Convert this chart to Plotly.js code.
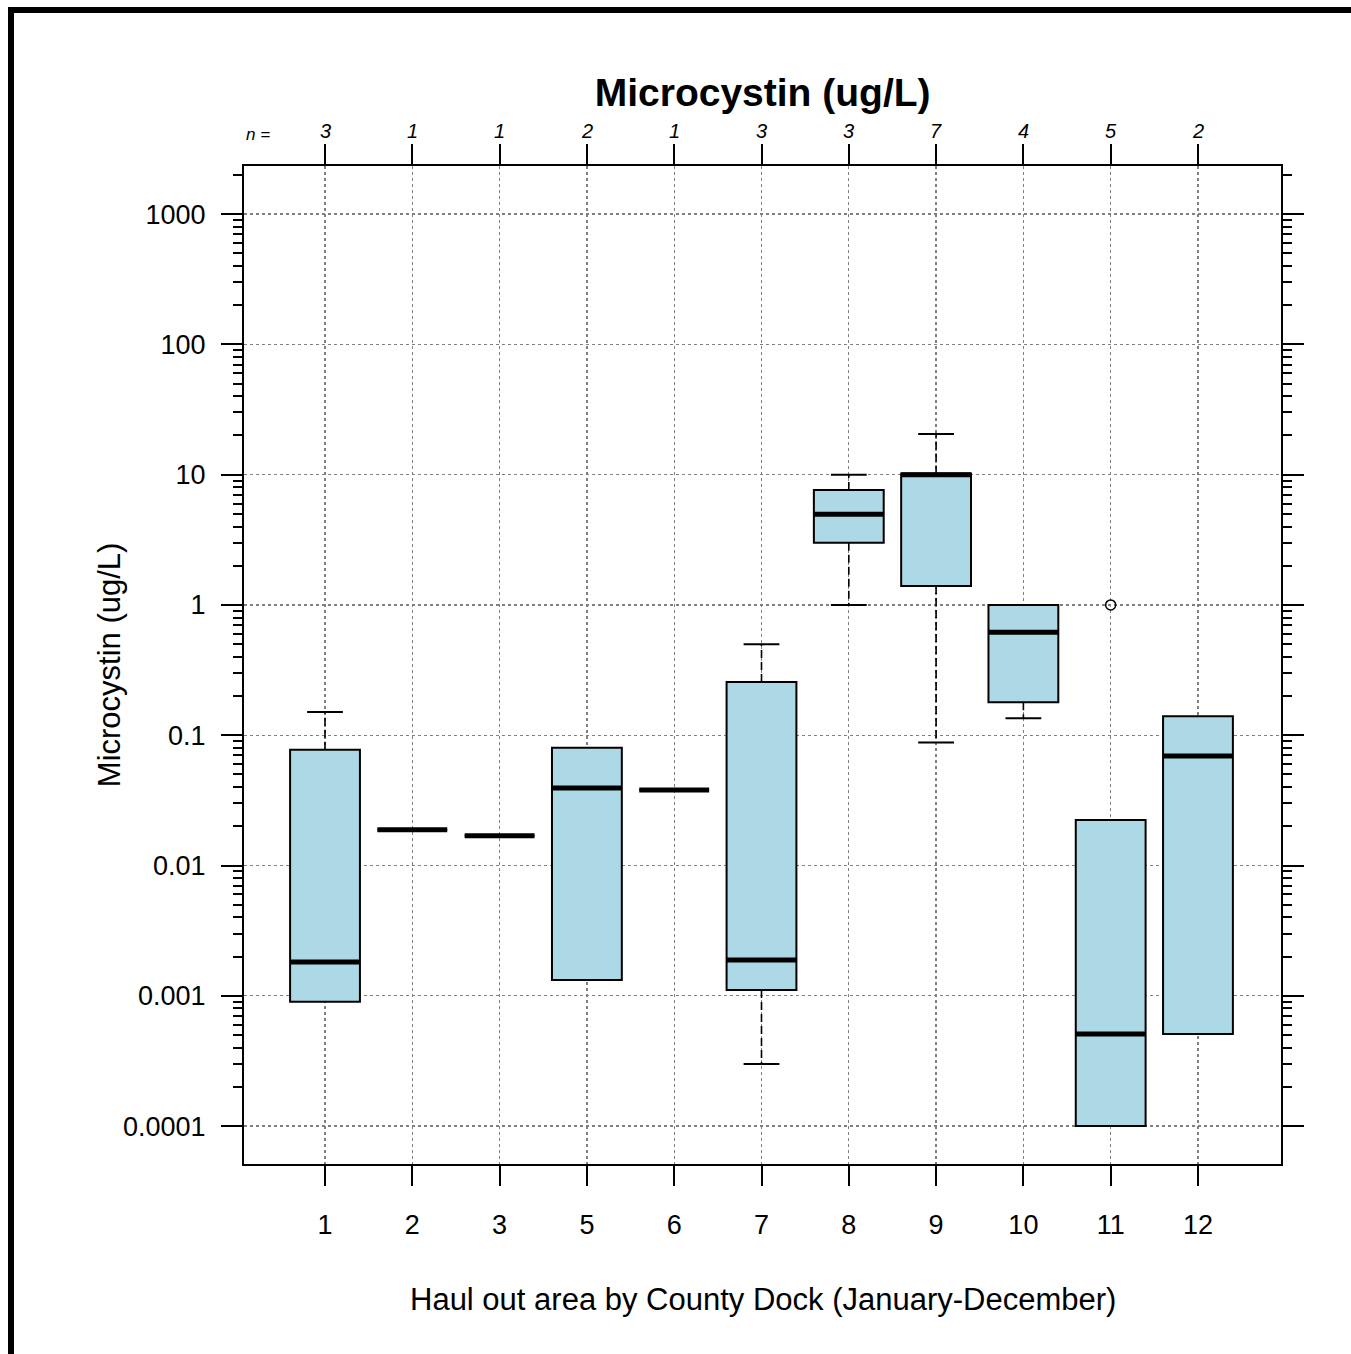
<!DOCTYPE html>
<html>
<head>
<meta charset="utf-8">
<script src="https://cdn.plot.ly/plotly-3.0.1.min.js"></script>
<style>
  html, body { margin: 0; padding: 0; background: #fff; }
  #chart { width: 1351px; height: 1354px; }
  #frame { position: absolute; left: 8px; top: 7px; width: 1400px; height: 1400px;
           border-top: 6px solid #000; border-left: 6px solid #000; pointer-events: none; }
</style>
</head>
<body>
<div id="chart"></div>
<div id="frame"></div>
<script>
// ---- data ----
const months      = ['1', '2', '3', '5', '6', '7', '8', '9', '10', '11', '12'];
const nCounts     = ['3', '1', '1', '2', '1', '3', '3', '7', '4', '5', '2'];
const q1Vals      = [0.00090, 0.0188, 0.0169, 0.00132, 0.038, 0.00111, 3.0, 1.40, 0.179, 0.0001, 0.00051];
const medianVals  = [0.00182, 0.0188, 0.0169, 0.0394, 0.038, 0.00188, 4.96, 10.0, 0.616, 0.00051, 0.0692];
const q3Vals      = [0.0772, 0.0188, 0.0169, 0.080, 0.038, 0.256, 7.62, 10.2, 1.0, 0.0224, 0.140];
const upperWhisk  = [0.151, null, null, null, null, 0.50, 10.0, 20.5, null, null, null];
const lowerWhisk  = [null, null, null, null, null, 0.0003, 1.0, 0.088, 0.135, null, null];
const outlierMonth = ['11'];
const outlierVals  = [1.0];
const yTickVals   = [0.0001, 0.001, 0.01, 0.1, 1, 10, 100, 1000];
const yTickText   = ['0.0001', '0.001', '0.01', '0.1', '1', '10', '100', '1000'];

// ---- derived ----
const idx = months.map((m, i) => i);
const minorVals = [];
for (let e = -4; e <= 3; e++) for (let d = 2; d <= 9; d++) minorVals.push(d * Math.pow(10, e));

const halfBox = 0.4, halfCap = 0.205;
const FONT = 'Liberation Sans, Arial, sans-serif';

// whiskers (dashed)
const wx = [], wy = [];
idx.forEach(i => {
  if (upperWhisk[i] !== null) { wx.push(i, i, null); wy.push(q3Vals[i], upperWhisk[i], null); }
  if (lowerWhisk[i] !== null) { wx.push(i, i, null); wy.push(q1Vals[i], lowerWhisk[i], null); }
});
// caps
const cx = [], cy = [];
idx.forEach(i => {
  if (upperWhisk[i] !== null) { cx.push(i - halfCap, i + halfCap, null); cy.push(upperWhisk[i], upperWhisk[i], null); }
  if (lowerWhisk[i] !== null) { cx.push(i - halfCap, i + halfCap, null); cy.push(lowerWhisk[i], lowerWhisk[i], null); }
});
// medians
const mx = [], my = [];
idx.forEach(i => { mx.push(i - halfBox, i + halfBox, null); my.push(medianVals[i], medianVals[i], null); });

const traces = [
  {
    type: 'scatter', mode: 'lines', x: wx, y: wy, hoverinfo: 'skip', showlegend: false,
    line: { color: '#000', width: 1.6, dash: '8px,4px' }
  },
  {
    type: 'box', x: idx, q1: q1Vals, median: medianVals, q3: q3Vals,
    lowerfence: q1Vals, upperfence: q3Vals, width: 2 * halfBox,
    fillcolor: '#ADD8E6', line: { color: '#000', width: 2 }, whiskerwidth: 0,
    showlegend: false, hoverinfo: 'skip'
  },
  {
    type: 'scatter', mode: 'lines', x: cx, y: cy, hoverinfo: 'skip', showlegend: false,
    line: { color: '#000', width: 2 }
  },
  {
    type: 'scatter', mode: 'lines', x: mx, y: my, hoverinfo: 'skip', showlegend: false,
    line: { color: '#000', width: 5 }
  },
  {
    type: 'scatter', mode: 'markers',
    x: outlierMonth.map(m => months.indexOf(m)), y: outlierVals,
    hoverinfo: 'skip', showlegend: false,
    marker: { symbol: 'circle-open', size: 10, color: '#000', line: { width: 1.5, color: '#000' } }
  }
];

const annotations = nCounts.map((n, i) => ({
  x: i, xref: 'x', y: 1.035, yref: 'paper', yanchor: 'middle', xanchor: 'center',
  text: n, showarrow: false, font: { family: FONT, size: 20, style: 'italic', color: '#000' }
}));
annotations.push({
  x: 0.0135, xref: 'paper', y: 1.032, yref: 'paper', yanchor: 'middle', xanchor: 'center',
  text: 'n =', showarrow: false, font: { family: FONT, size: 17, style: 'italic', color: '#000' }
});
annotations.push({
  x: -0.1300, xref: 'paper', y: 0.5, yref: 'paper', xanchor: 'center', yanchor: 'middle',
  textangle: -90, text: 'Microcystin (ug/L)', showarrow: false,
  font: { family: FONT, size: 31, color: '#000' }
});
annotations.push({
  x: 0.5, xref: 'paper', y: -0.1353, yref: 'paper', xanchor: 'center', yanchor: 'middle',
  text: 'Haul out area by County Dock (January-December)', showarrow: false,
  font: { family: FONT, size: 31, color: '#000' }
});

const layout = {
  width: 1351, height: 1354,
  margin: { l: 244, r: 70, t: 166, b: 190 },
  paper_bgcolor: '#fff', plot_bgcolor: '#fff',
  font: { family: FONT, color: '#000' },
  title: {
    text: 'Microcystin (ug/L)', x: 0.5645, xanchor: 'center', y: 1 - 92 / 1354, yanchor: 'middle',
    yref: 'container', font: { family: FONT, size: 39, weight: 'bold', color: '#000' }
  },
  xaxis: {
    range: [-0.928, 10.951], tickmode: 'array', tickvals: idx, ticktext: months,
    ticks: 'outside', ticklen: 20, tickwidth: 2, tickcolor: '#000',
    showline: true, linecolor: '#000', linewidth: 2, mirror: 'ticks',
    showgrid: true, gridcolor: '#808080', gridwidth: 1.2, griddash: 'dot', zeroline: false,
    tickfont: { family: FONT, size: 27, color: '#000' }, ticklabelstandoff: 16
  },
  yaxis: {
    type: 'log', range: [-4.291, 3.369], tickmode: 'array', tickvals: yTickVals, ticktext: yTickText,
    ticks: 'outside', ticklen: 21, tickwidth: 2, tickcolor: '#000',
    showline: true, linecolor: '#000', linewidth: 2, mirror: 'ticks',
    showgrid: true, gridcolor: '#808080', gridwidth: 1.2, griddash: 'dot', zeroline: false,
    tickfont: { family: FONT, size: 27, color: '#000' }, ticklabelstandoff: 10,
    minor: { ticks: 'outside', ticklen: 9, tickwidth: 2, tickcolor: '#000',
             tickmode: 'array', tickvals: minorVals, showgrid: false }
  },
  annotations: annotations
};

Plotly.newPlot('chart', traces, layout, { staticPlot: true });
</script>
</body>
</html>
